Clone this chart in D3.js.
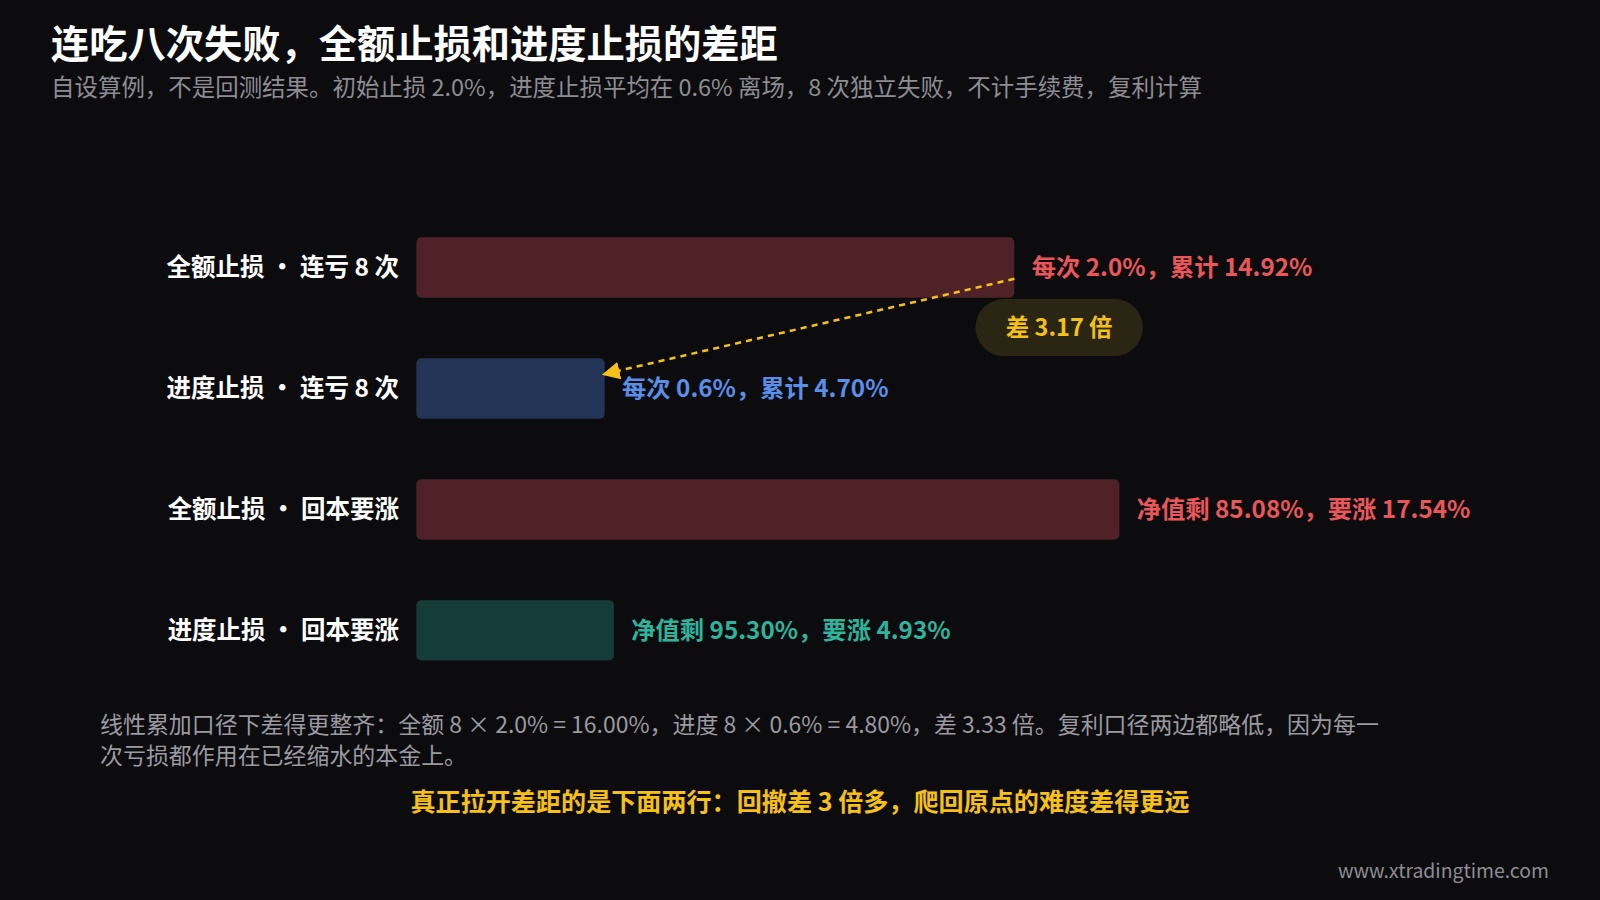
<!DOCTYPE html>
<html><head><meta charset="utf-8">
<script src="https://cdn.jsdelivr.net/npm/d3@7"></script>
<style>body{margin:0;background:#0c0c0f;}svg{display:block}</style>
</head><body><svg id="c" width="1600" height="900" viewBox="0 0 1568 882"></svg>
<script>
const categories = ["全额止损 · 连亏 8 次","进度止损 · 连亏 8 次","全额止损 · 回本要涨","进度止损 · 回本要涨"];
const values = [14.92, 4.70, 17.54, 4.93];
const labels = ["每次 2.0%，累计 14.92%","每次 0.6%，累计 4.70%","净值剩 85.08%，要涨 17.54%","净值剩 95.30%，要涨 4.93%"];
const barColors = ["#4e2226","#233456","#4e2226","#163c39"];
const textColors = ["#e9575a","#5b8ee6","#e9575a","#2fb39b"];
const F = "'Noto Sans CJK SC','Noto Sans',sans-serif";
const svg = d3.select("#c");
svg.append("rect").attr("width",1568).attr("height",882).attr("fill","#0c0c0f");
svg.append("text").attr("x",50).attr("y",57).attr("fill","#fff").attr("font-family",F).attr("font-size",37.5).attr("font-weight",700).text("连吃八次失败，全额止损和进度止损的差距");
svg.append("text").attr("x",50).attr("y",94).attr("fill","#8d8d93").attr("font-family",F).attr("font-size",23).text("自设算例，不是回测结果。初始止损 2.0%，进度止损平均在 0.6% 离场，8 次独立失败，不计手续费，复利计算");
const x = d3.scaleLinear().domain([0,17.54]).range([408,1097]);
const y = d3.scaleBand().domain(categories).range([203,677]).paddingInner(0.5).paddingOuter(0.25);
const g = svg.append("g");
categories.forEach((c,i)=>{
  const yc = y(c)+y.bandwidth()/2;
  g.append("rect").attr("x",x(0)).attr("y",y(c)).attr("width",x(values[i])-x(0)).attr("height",y.bandwidth()).attr("rx",5).attr("fill",barColors[i]);
  g.append("text").attr("x",391).attr("y",yc).attr("dy","0.35em").attr("text-anchor","end").attr("fill","#fff").attr("font-family",F).attr("font-size",24).attr("font-weight",700).text(c);
  g.append("text").attr("x",x(values[i])+17).attr("y",yc).attr("dy","0.35em").attr("fill",textColors[i]).attr("font-family",F).attr("font-size",23.8).attr("font-weight",700).text(labels[i]);
});
const y0 = y(categories[0])+y.bandwidth()/2, y1 = y(categories[1])+y.bandwidth()/2;
svg.append("defs").append("marker").attr("id","ah").attr("viewBox","0 0 10 10").attr("refX",9).attr("refY",5).attr("markerWidth",7).attr("markerHeight",7).attr("orient","auto")
  .append("path").attr("d","M0,0L10,5L0,10z").attr("fill","#f5c018");
svg.append("line").attr("x1",x(values[0])).attr("y1",y0+11).attr("x2",x(values[1])-1).attr("y2",y1-14).attr("stroke","#f5c018").attr("stroke-width",2.5).attr("stroke-dasharray","6,5").attr("marker-end","url(#ah)");
svg.append("rect").attr("x",956).attr("y",293).attr("width",164).attr("height",56).attr("rx",28).attr("fill","#2b2613");
svg.append("text").attr("x",1038).attr("y",321).attr("dy","0.35em").attr("text-anchor","middle").attr("fill","#f5c018").attr("font-family",F).attr("font-size",23).attr("font-weight",700).text("差 3.17 倍");
svg.append("text").attr("x",98).attr("y",718).attr("fill","#9a9aa0").attr("font-family",F).attr("font-size",22.5).text("线性累加口径下差得更整齐：全额 8 × 2.0% = 16.00%，进度 8 × 0.6% = 4.80%，差 3.33 倍。复利口径两边都略低，因为每一");
svg.append("text").attr("x",98).attr("y",749).attr("fill","#9a9aa0").attr("font-family",F).attr("font-size",22.5).text("次亏损都作用在已经缩水的本金上。");
svg.append("text").attr("x",784).attr("y",795).attr("text-anchor","middle").attr("fill","#f5c018").attr("font-family",F).attr("font-size",24.6).attr("font-weight",700).text("真正拉开差距的是下面两行：回撤差 3 倍多，爬回原点的难度差得更远");
svg.append("text").attr("x",1518).attr("y",860).attr("text-anchor","end").attr("fill","#8d8d93").attr("font-family",F).attr("font-size",19).text("www.xtradingtime.com");
</script></body></html>
